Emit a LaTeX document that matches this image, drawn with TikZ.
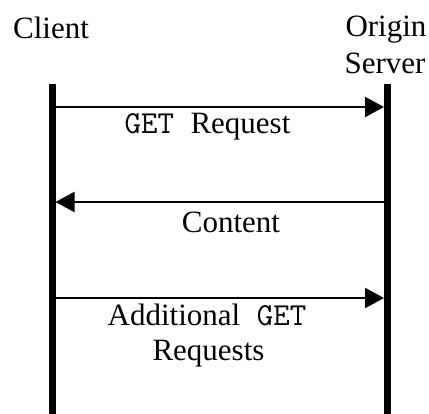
\documentclass[tikz,border=0pt]{standalone}
\usepackage{fontspec}
\setmainfont{Liberation Serif}
\usetikzlibrary{arrows.meta}
\tikzset{
  lifeline/.style={line width=7pt},
  msg/.style={line width=2.2pt, -{Triangle[length=19pt,width=20pt]}, shorten >=0pt},
  lbl/.style={inner sep=0pt, anchor=base, font=\fontsize{31}{36}\selectfont}
}
\newcommand{\code}[1]{{\fontsize{32}{36}\selectfont\ttfamily #1}}
\begin{document}
\begin{tikzpicture}[x=1pt, y=-1pt]
\useasboundingbox (0,0) rectangle (429,414);

% participants
\node[lbl] (client) at (51,39) {Client};
\node[lbl] (origin) at (386,37) {Origin};
\node[lbl] (server) at (385,74) {Server};

% lifelines
\coordinate (ctop) at (52,84);
\coordinate (cbot) at (52,414);
\coordinate (stop) at (387.5,84);
\coordinate (sbot) at (387.5,414);
\draw[lifeline] (ctop) -- (cbot);
\draw[lifeline] (stop) -- (sbot);

% message end points on the lifeline edges
\coordinate (c1) at (55.5,107);
\coordinate (s1) at (384,107);
\coordinate (s2) at (384,202);
\coordinate (c2) at (55.5,202);
\coordinate (c3) at (55.5,298);
\coordinate (s3) at (384,298);

\draw[msg] (c1) -- (s1);
\draw[msg] (s2) -- (c2);
\draw[msg] (c3) -- (s3);

% message labels
\node[lbl] (m1) at (207.5,134) {\code{GET }Request};
\node[lbl] (m2) at (231,233) {Content};
\node[lbl] (m3a) at (207,326) {Additional\code{ GET}};
\node[lbl] (m3b) at (208.5,361) {Requests};
\end{tikzpicture}
\end{document}
